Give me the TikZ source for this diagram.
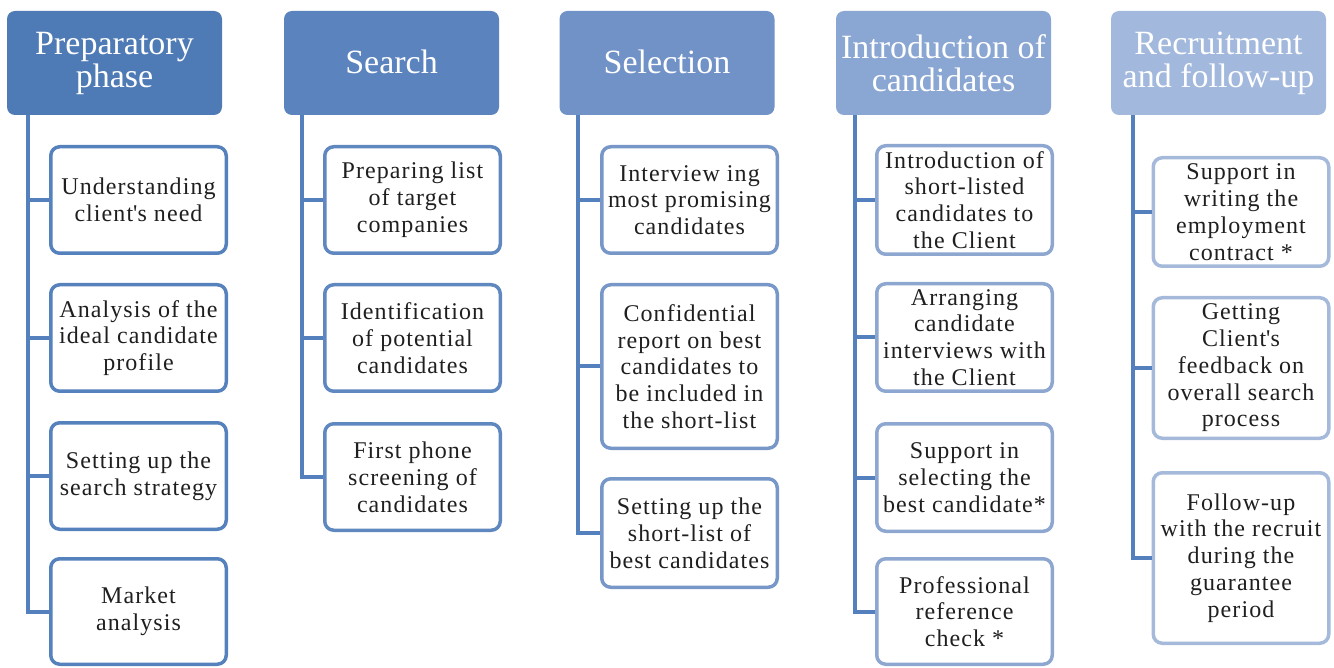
\documentclass[tikz,border=0pt]{standalone}
\usepackage{fontspec}
\setmainfont{Liberation Serif}
\newfontfamily\itemfont[LetterSpace=4.5]{Liberation Serif}
\definecolor{hA}{HTML}{4E7AB5}
\definecolor{hB}{HTML}{5B83BE}
\definecolor{hC}{HTML}{7092C6}
\definecolor{hD}{HTML}{8AA6D2}
\definecolor{hE}{HTML}{A2B8DC}
\definecolor{bA}{HTML}{5581BD}
\definecolor{bB}{HTML}{5F88C0}
\definecolor{bC}{HTML}{7797C8}
\definecolor{bD}{HTML}{8DA7D0}
\definecolor{bE}{HTML}{A5B9DA}
\definecolor{linkblue}{HTML}{5580BE}
\begin{document}
\begin{tikzpicture}[x=1pt,y=-1pt,
  head/.style={rounded corners=8pt, minimum width=215pt, minimum height=104pt,
    inner sep=0pt, text=white, align=center, font=\fontsize{34}{33}\selectfont},
  item/.style={rounded corners=9pt, line width=3.5pt, fill=white,
    minimum width=175.5pt, inner sep=0pt, align=center,
    font=\itemfont\fontsize{24}{26.8}\selectfont, text=black!88},
  link/.style={line width=4pt, draw=linkblue}]
\useasboundingbox (0,0) rectangle (1334,668);

% phase headers
\node[head, fill=hA] (h1) at (114.5,63) {Preparatory\\phase};
\node[head, fill=hB] (h2) at (391.5,63) {\raisebox{2pt}{Search}};
\node[head, fill=hC] (h3) at (667,63) {\raisebox{2pt}{Selection}};
\node[head, fill=hD] (h4) at (943.5,63) {Introduction of\\candidates};
\node[head, fill=hE] (h5) at (1218.5,63) {Recruitment\\and follow-up};

% trunk start points below each header
\coordinate (t1) at ([xshift=21pt]h1.south west);
\coordinate (t2) at ([xshift=18pt]h2.south west);
\coordinate (t3) at ([xshift=19pt]h3.south west);
\coordinate (t4) at ([xshift=19pt]h4.south west);
\coordinate (t5) at ([xshift=22pt]h5.south west);

% preparatory phase
\node[item, draw=bA, minimum height=106.5pt] (a1) at (138.5,200) {Understanding\\client\textquotesingle s need};
\node[item, draw=bA, minimum height=106.5pt] (a2) at (138.5,338) {Analysis of the\\ideal candidate\\profile};
\node[item, draw=bA, minimum height=106.5pt] (a3) at (138.5,476) {Setting up the\\search strategy};
\node[item, draw=bA, minimum height=105.5pt] (a4) at (138.5,611.5) {Market\\analysis};

% search
\node[item, draw=bB, minimum height=106.5pt] (b1) at (412.5,200) {Preparing list\\of target\\companies};
\node[item, draw=bB, minimum height=106.5pt] (b2) at (412.5,338) {Identification\\of potential\\candidates};
\node[item, draw=bB, minimum height=106.5pt] (b3) at (412.5,477) {First phone\\screening of\\candidates};

% selection
\node[item, draw=bC, minimum height=106.5pt] (c1) at (689.5,200) {Interview ing\\most promising\\candidates};
\node[item, draw=bC, minimum height=163.5pt] (c2) at (689.5,366.5) {Confidential\\report on best\\candidates to\\be included in\\the short-list};
\node[item, draw=bC, minimum height=108.5pt] (c3) at (689.5,533) {Setting up the\\short-list of\\best candidates};

% introduction of candidates
\node[item, draw=bD, minimum height=108.5pt] (d1) at (964.5,200) {Introduction of\\short-listed\\candidates to\\the Client};
\node[item, draw=bD, minimum height=107.5pt] (d2) at (964.5,337.5) {Arranging\\candidate\\interviews with\\the Client};
\node[item, draw=bD, minimum height=107.5pt] (d3) at (964.5,477.5) {Support in\\selecting the\\best candidate*};
\node[item, draw=bD, minimum height=105.5pt] (d4) at (964.5,611.5) {Professional\\reference\\check *};

% recruitment and follow-up
\node[item, draw=bE, minimum height=108.5pt] (e1) at (1241,212) {Support in\\writing the\\employment\\contract *};
\node[item, draw=bE, minimum height=140.5pt] (e2) at (1241,368) {Getting\\Client\textquotesingle s\\feedback on\\overall search\\process};
\node[item, draw=bE, minimum height=170.5pt] (e3) at (1241,558) {Follow-up\\with the recruit\\during the\\guarantee\\period};

% trunks and branches
\draw[link] (t1) |- (a4.west);
\foreach \n in {a1,a2,a3} \draw[link] (t1 |- \n.west) -- (\n.west);
\draw[link] (t2) |- (b3.west);
\foreach \n in {b1,b2} \draw[link] (t2 |- \n.west) -- (\n.west);
\draw[link] (t3) |- (c3.west);
\foreach \n in {c1,c2} \draw[link] (t3 |- \n.west) -- (\n.west);
\draw[link] (t4) |- (d4.west);
\foreach \n in {d1,d2,d3} \draw[link] (t4 |- \n.west) -- (\n.west);
\draw[link] (t5) |- (e3.west);
\foreach \n in {e1,e2} \draw[link] (t5 |- \n.west) -- (\n.west);
\end{tikzpicture}
\end{document}
